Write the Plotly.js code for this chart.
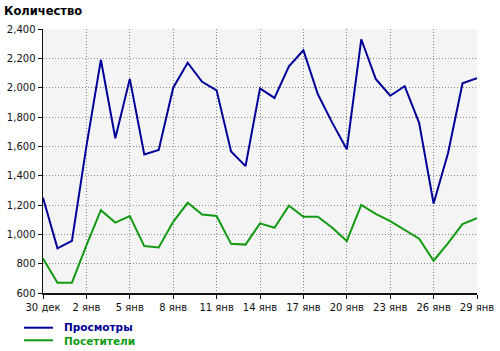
<!DOCTYPE html>
<html>
<head>
<meta charset="utf-8">
<script src="https://cdn.plot.ly/plotly-3.0.1.min.js"></script>
<style>html,body{margin:0;padding:0;background:#fff;}#chart{width:500px;height:351px;}</style>
</head>
<body>
<div id="chart"></div>
<script>
const categories = ["30 дек","31 дек","1 янв","2 янв","3 янв","4 янв","5 янв","6 янв","7 янв","8 янв",
  "9 янв","10 янв","11 янв","12 янв","13 янв","14 янв","15 янв","16 янв","17 янв","18 янв",
  "19 янв","20 янв","21 янв","22 янв","23 янв","24 янв","25 янв","26 янв","27 янв","28 янв","29 янв"];
const tickLabels = ["30 дек","2 янв","5 янв","8 янв","11 янв","14 янв","17 янв","20 янв","23 янв","26 янв","29 янв"];
const views = [1250, 905, 955, 1600, 2190, 1655, 2060, 1545, 1575, 2000,
  2170, 2040, 1982, 1565, 1465, 1995, 1930, 2145, 2255, 1955,
  1760, 1580, 2330, 2060, 1945, 2010, 1760, 1210, 1555, 2030, 2065];
const visitors = [835, 670, 670, 925, 1165, 1080, 1125, 920, 910, 1085,
  1215, 1135, 1125, 935, 930, 1075, 1045, 1195, 1120, 1120,
  1045, 955, 1200, 1140, 1090, 1030, 970, 820, 940, 1070, 1110];
const seriesNames = ["Просмотры", "Посетители"];
const yTitle = "Количество";

const colors = ["#000099", "#139a13"];
const FONT = "DejaVu Sans, Verdana, sans-serif";

const traces = [views, visitors].map((vals, i) => ({
  type: "scatter", mode: "lines", x: categories, y: vals, name: seriesNames[i],
  line: {color: colors[i], width: 2}, hoverinfo: "skip"
}));

const W = 434, H = 264;
const legendY = [-(327.7 - 293) / H, -(340.3 - 293) / H];
const shapes = seriesNames.map((n, i) => ({
  type: "line", xref: "paper", yref: "paper",
  x0: (24 - 43) / W, x1: (53 - 43) / W, y0: legendY[i], y1: legendY[i],
  line: {color: colors[i], width: 2}
}));
const legendText = seriesNames.map((n, i) =>
  "<span style=\"color:" + colors[i] + "\"><b>" + n + "</b></span>").join("<br>");
const annotations = [{
  xref: "paper", yref: "paper", x: (62 - 43) / W, y: (legendY[0] + legendY[1]) / 2,
  xanchor: "left", yanchor: "middle", align: "left", showarrow: false,
  text: legendText, font: {family: FONT, size: 10.5, color: colors[0]}
}];

const layout = {
  width: 500, height: 351,
  margin: {l: 43, r: 23, t: 29, b: 58},
  paper_bgcolor: "#ffffff", plot_bgcolor: "#f4f4f4",
  showlegend: false,
  title: {text: "<b>" + yTitle + "</b>", xref: "container", yref: "container",
    x: 0.008, xanchor: "left", y: 1 - 11 / 351, yanchor: "middle",
    font: {family: FONT, size: 11.5, color: "#000"}},
  xaxis: {type: "category", range: [0, 30], tickvals: tickLabels, ticktext: tickLabels,
    showgrid: true, gridcolor: "#888888", griddash: "1px,2px", gridwidth: 1,
    showline: true, linecolor: "#111", linewidth: 1.5,
    ticks: "outside", ticklen: 4, tickcolor: "#111", tickwidth: 1,
    tickfont: {family: FONT, size: 10, color: "#111"}, zeroline: false, fixedrange: true},
  yaxis: {range: [600, 2400], dtick: 200, tick0: 600, tickformat: ",",
    showgrid: true, gridcolor: "#888888", griddash: "1px,2px", gridwidth: 1,
    showline: true, linecolor: "#111", linewidth: 1.5,
    ticks: "outside", ticklen: 4, tickcolor: "#111", tickwidth: 1,
    tickfont: {family: FONT, size: 10, color: "#111"}, zeroline: false, fixedrange: true},
  shapes: shapes, annotations: annotations
};

Plotly.newPlot("chart", traces, layout, {staticPlot: true, displayModeBar: false});
</script>
</body>
</html>
